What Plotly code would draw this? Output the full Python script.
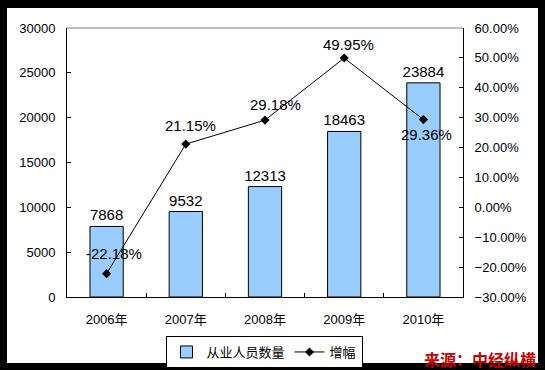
import plotly.graph_objects as go

# ---- data ----
years = ["2006年", "2007年", "2008年", "2009年", "2010年"]
employees = [7868, 9532, 12313, 18463, 23884]
growth_pct = [-22.18, 21.15, 29.18, 49.95, 29.36]
y1_ticks = [0, 5000, 10000, 15000, 20000, 25000, 30000]
y2_ticks_pct = [-30, -20, -10, 0, 10, 20, 30, 40, 50, 60]
bar_name = "从业人员数量"
line_name = "增幅"
source_text = "来源：中经纵横"

growth = [g / 100 for g in growth_pct]
y2_ticks = [t / 100 for t in y2_ticks_pct]

# ---- layout geometry (pixels) ----
W, H = 545, 370
L, R, T, B = 67, 82, 28, 73
PW, PH = W - L - R, H - T - B


def px_x(px):
    return (px - L) / PW


def px_y(py):
    return (H - B - py) / PH


# label offsets for growth labels (pixels, style only)
label_shift = [(7, 20), (5, 19), (10, 16), (4, 14), (3, -15)]

FONT = "Liberation Sans, Arial, Noto Sans CJK SC, sans-serif"
CJK = "Noto Sans CJK SC, sans-serif"

fig = go.Figure()
fig.add_trace(go.Bar(
    x=years, y=employees, name=bar_name,
    marker=dict(color="#99CCFF", line=dict(color="black", width=1)),
    width=0.42,
    text=[str(v) for v in employees], textposition="outside",
    constraintext="none",
    textfont=dict(size=15, color="black", family=FONT),
    cliponaxis=False,
))
fig.add_trace(go.Scatter(
    x=years, y=growth, name=line_name, yaxis="y2", mode="lines+markers",
    line=dict(color="black", width=1),
    marker=dict(symbol="diamond", size=7, color="black"),
    cliponaxis=False,
))

annotations = []
for yr, g, (dx, dy) in zip(years, growth, label_shift):
    annotations.append(dict(
        x=yr, y=g, xref="x", yref="y2", text=f"{g*100:.2f}%",
        showarrow=False, xshift=dx, yshift=dy,
        xanchor="center", yanchor="middle",
        font=dict(size=15, color="black", family=FONT),
    ))
annotations.append(dict(
    x=px_x(480), y=px_y(359), xref="paper", yref="paper",
    text="<b>" + source_text + "</b>", showarrow=False,
    xanchor="center", yanchor="middle",
    font=dict(size=16, color="#CC0000", family=CJK),
))

frame = dict(type="rect", xref="paper", yref="paper", fillcolor="black",
             line=dict(width=0), layer="below")
shapes = [
    # black frame round the white page
    dict(frame, x0=px_x(-20), x1=px_x(7), y0=px_y(H + 20), y1=px_y(-20)),
    dict(frame, x0=px_x(538), x1=px_x(W + 20), y0=px_y(H + 20), y1=px_y(-20)),
    dict(frame, x0=px_x(-20), x1=px_x(W + 20), y0=px_y(8), y1=px_y(-20)),
    dict(frame, x0=px_x(-20), x1=px_x(W + 20), y0=px_y(H + 20), y1=px_y(363)),
    # grey top border of plot area
    dict(type="line", xref="paper", yref="paper", x0=0, x1=1, y0=1, y1=1,
         line=dict(color="#808080", width=1)),
]

fig.update_layout(
    template="none",
    width=W, height=H,
    margin=dict(l=L, r=R, t=T, b=B, pad=0, autoexpand=False),
    paper_bgcolor="white", plot_bgcolor="white",
    font=dict(family=FONT, size=13, color="black"),
    showlegend=True,
    legend=dict(orientation="h", x=px_x(264), xanchor="center",
                y=px_y(336), yanchor="top",
                bordercolor="black", borderwidth=1, bgcolor="white",
                font=dict(size=13, family=CJK, color="black"),
                itemwidth=30, tracegroupgap=0),
    xaxis=dict(type="category", showline=True, linecolor="black", linewidth=1,
               ticks="inside", ticklen=4, tickcolor="black", tickson="boundaries",
               showgrid=False, zeroline=False, automargin=False,
               tickfont=dict(size=13, family=FONT), ticklabelstandoff=10),
    yaxis=dict(range=[0, 30000], tickvals=y1_ticks, tickformat="d", showline=True,
               linecolor="black", linewidth=1, ticks="inside", ticklen=4,
               tickcolor="black", showgrid=False, zeroline=False, automargin=False,
               tickfont=dict(size=13, family=FONT), ticklabelstandoff=8),
    yaxis2=dict(range=[-0.3, 0.6], tickvals=y2_ticks, tickformat=".2%",
                overlaying="y", side="right", showline=True, linecolor="black",
                linewidth=1, ticks="inside", ticklen=4, tickcolor="black",
                showgrid=False, zeroline=False, automargin=False,
                tickfont=dict(size=13, family=FONT), ticklabelstandoff=8),
    bargap=0.58,
    annotations=annotations,
    shapes=shapes,
)

fig.write_html(
    "out.html",
    config={"displayModeBar": False},
    post_script="document.body.style.margin='0';document.body.style.padding='0';",
)
